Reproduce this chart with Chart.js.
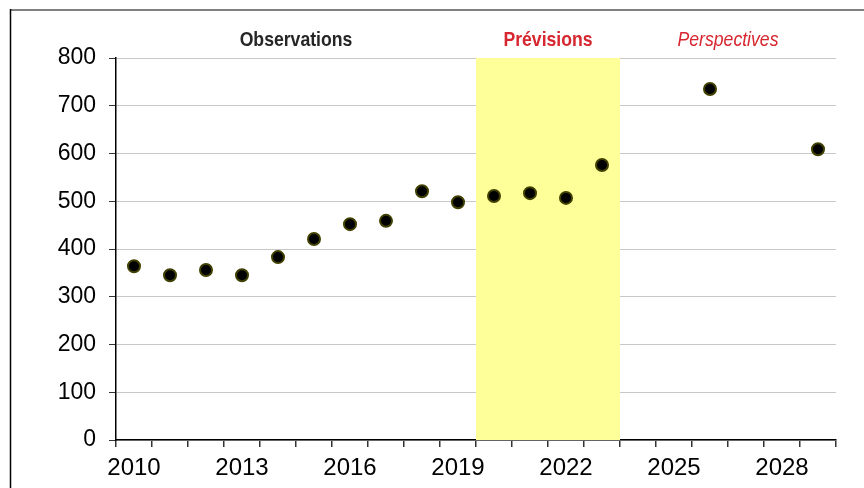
<!DOCTYPE html>
<html>
<head>
<meta charset="utf-8">
<script src="https://cdn.jsdelivr.net/npm/chart.js@4"></script>
<style>
  html, body { margin: 0; padding: 0; background: #fff; }
  #wrap { width: 864px; height: 488px; position: relative; }
</style>
</head>
<body>
<div id="wrap"><canvas id="chart" width="864" height="488"></canvas></div>
<script>
const years = [];
for (let y = 2010; y <= 2029; y++) years.push(String(y));

// null = no value
const values = [364, 345, 356, 345, 383, 421, 452, 459, 521, 498,
                511, 517, 507, 576, null, null, 735, null, null, 609];

const bandFrom = "2020";
const bandTo = "2023";

const headers = [
  { text: "Observations", at: 4.5, color: "#262626", style: "bold" },
  { text: "Prévisions", at: 11.5, color: "#d7262f", style: "bold" },
  { text: "Perspectives", at: 16.5, color: "#d7262f", style: "italic" }
];

const backdrop = {
  id: "backdrop",
  beforeDatasetsDraw(chart) {
    const { ctx, chartArea, scales } = chart;
    const x = scales.x;
    const half = (x.getPixelForValue(1) - x.getPixelForValue(0)) / 2;
    const x0 = x.getPixelForValue(years.indexOf(bandFrom)) - half;
    const x1 = x.getPixelForValue(years.indexOf(bandTo)) + half;
    ctx.save();
    ctx.fillStyle = "#ffff99";
    ctx.fillRect(x0, chartArea.top, x1 - x0, chartArea.bottom - chartArea.top);
    ctx.restore();
  },
  afterDraw(chart) {
    const { ctx, scales } = chart;
    const x = scales.x;
    headers.forEach(h => {
      // no narrow face installed, so squeeze the regular one
      ctx.save();
      ctx.translate(x.getPixelForValue(h.at), 40);
      ctx.scale(0.84, 1);
      ctx.font = h.style + " 21px 'Liberation Sans', Arial, sans-serif";
      ctx.fillStyle = h.color;
      ctx.textAlign = "center";
      ctx.textBaseline = "middle";
      ctx.fillText(h.text, 0, 0);
      ctx.restore();
    });
    // frame
    ctx.save();
    ctx.strokeStyle = "#808080";
    ctx.lineWidth = 2;
    ctx.beginPath();
    ctx.moveTo(10, 10);
    ctx.lineTo(864, 10);
    ctx.stroke();
    ctx.strokeStyle = "#000";
    ctx.lineWidth = 1.5;
    ctx.beginPath();
    ctx.moveTo(10.5, 9);
    ctx.lineTo(10.5, 488);
    ctx.stroke();
    ctx.restore();
  }
};

new Chart(document.getElementById("chart"), {
  type: "line",
  data: {
    labels: years,
    datasets: [{
      data: values,
      showLine: false,
      pointRadius: 6,
      pointHoverRadius: 6,
      pointBackgroundColor: "#000",
      pointBorderColor: "#404000",
      pointBorderWidth: 2
    }]
  },
  options: {
    responsive: false,
    animation: false,
    layout: { padding: { top: 58, right: 28, left: 0, bottom: 0 } },
    plugins: { legend: { display: false }, tooltip: { enabled: false } },
    scales: {
      x: {
        offset: true,
        grid: { offset: true, drawOnChartArea: false, tickLength: 7, tickColor: "#333", lineWidth: 1.5 },
        border: { color: "#000", width: 1.5 },
        ticks: {
          autoSkip: false, maxRotation: 0, padding: 7,
          color: "#000", font: { family: "'Liberation Sans', Arial", size: 24 },
          callback: (v, i) => (i % 3 === 0 ? years[i] : "")
        },
        afterFit: s => { s.height = 48; }
      },
      y: {
        min: 0, max: 800,
        grid: { color: "#c8c8c8", tickLength: 7, tickColor: "#333" },
        border: { color: "#000", width: 1.5 },
        ticks: {
          stepSize: 100, padding: 13,
          color: "#000", font: { family: "'Liberation Sans', Arial", size: 23 }
        },
        afterFit: s => { s.width = 116; }
      }
    }
  },
  plugins: [backdrop]
});
</script>
</body>
</html>
